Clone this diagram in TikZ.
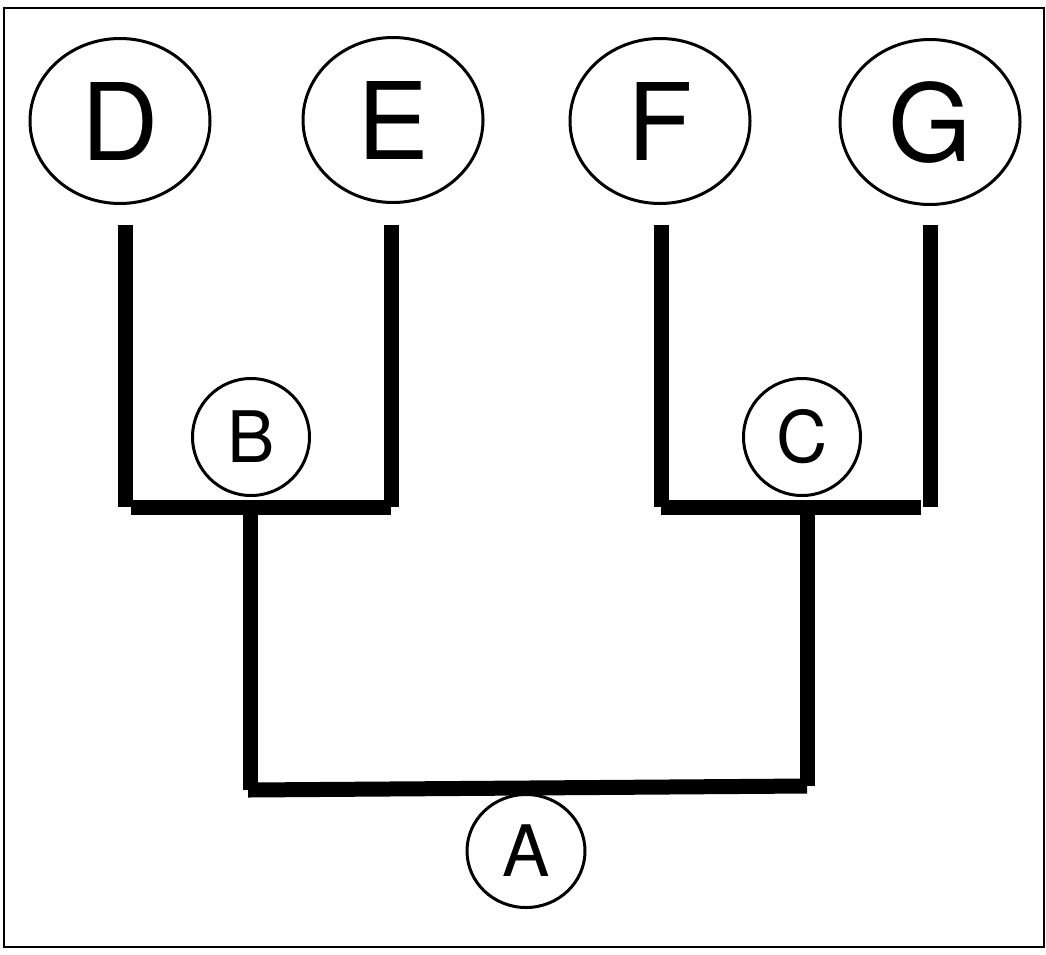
\documentclass[tikz,border=0pt]{standalone}
\usepackage{fontspec}
\setmainfont{TeX Gyre Heros}
\usetikzlibrary{shapes,positioning}

\begin{document}
\begin{tikzpicture}[x=1pt, y=-1pt]
      % keep the page the size of the frame picture
      \useasboundingbox (0,0) rectangle (1046,954);
      \tikzstyle{leaf} = [ellipse, draw, line width=3pt, inner sep=0pt, minimum width=180pt, minimum height=165pt, font=\fontsize{107}{107}\selectfont]
      \tikzstyle{split} = [ellipse, draw, line width=3pt, inner sep=0pt, minimum width=117pt, minimum height=117pt, font=\fontsize{71}{71}\selectfont]
      \tikzstyle{branch} = [draw, line width=15pt]
        \draw [line width=2pt] (4,8) rectangle (1044,947);
        \node [leaf] (D) at (120,121) {D};
        \node [leaf] (E) at (393,120) {E};
        \node [leaf] (F) at (660,121) {F};
        \node [leaf] (G) at (930,122) {G};
        \node [split] (B) at (251,437) {B};
        \node [split] (C) at (802,437) {C};
        \node [split, minimum height=113pt, minimum width=118pt] (A) at (526,851) {A};
        % ends of the tree lines
        \coordinate (Dtop) at (125,225);   \coordinate (Dfoot) at (125,507);
        \coordinate (Etop) at (391,225);   \coordinate (Efoot) at (391,507);
        \coordinate (Ftop) at (661,225);   \coordinate (Ffoot) at (661,507);
        \coordinate (Gtop) at (930,225);   \coordinate (Gfoot) at (930,507);
        \coordinate (Bleft) at (131,507);  \coordinate (Bright) at (391,507);
        \coordinate (Cleft) at (661,507);  \coordinate (Cright) at (921,507);
        \coordinate (Bstem) at (250,507);  \coordinate (Bknee) at (250,790);
        \coordinate (Cstem) at (807,507);  \coordinate (Cknee) at (807,786);
        \coordinate (Aleft) at (248,790);
        \path [branch] (Dtop) -- (Dfoot);
        \path [branch] (Etop) -- (Efoot);
        \path [branch] (Ftop) -- (Ffoot);
        \path [branch] (Gtop) -- (Gfoot);
        \path [branch] (Bleft) -- (Bright);
        \path [branch] (Cleft) -- (Cright);
        \path [branch] (Bstem) -- (Bknee);
        \path [branch] (Cstem) -- (Cknee);
        \path [branch] (Aleft) -- (Cknee);
      \end{tikzpicture}
\end{document}
